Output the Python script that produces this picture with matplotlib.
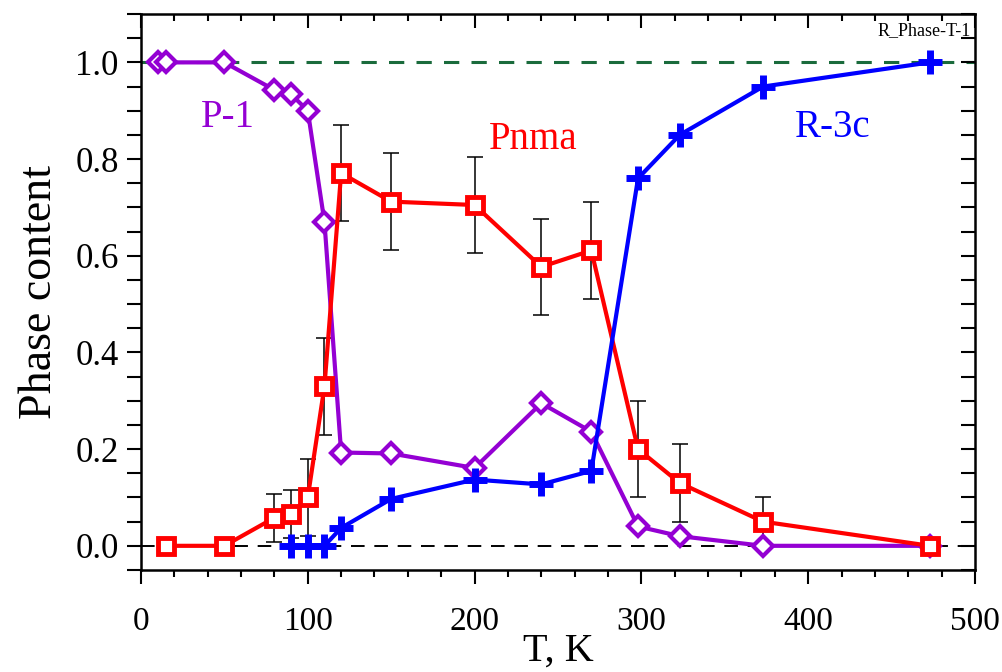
import matplotlib
matplotlib.use("Agg")
import matplotlib.pyplot as plt
from matplotlib.ticker import MultipleLocator

plt.rcParams['font.family'] = ['Liberation Serif', 'DejaVu Serif']

# P-1 phase (purple diamonds)
T_p1 = [10, 15, 50, 80, 90, 100, 110, 120, 150, 200, 240, 270, 298, 323, 373, 473]
v_p1 = [1.0, 1.0, 1.0, 0.943, 0.934, 0.90, 0.67, 0.193, 0.191, 0.161, 0.295, 0.236, 0.04, 0.02, 0.0, 0.0]

# Pnma phase (red squares) with error bars
T_pnma = [15, 50, 80, 90, 100, 110, 120, 150, 200, 240, 270, 298, 323, 373, 473]
v_pnma = [0.0, 0.0, 0.058, 0.066, 0.10, 0.33, 0.771, 0.712, 0.705, 0.577, 0.611, 0.20, 0.13, 0.05, 0.0]
e_pnma = [0, 0, 0.05, 0.05, 0.08, 0.10, 0.10, 0.10, 0.10, 0.10, 0.10, 0.10, 0.08, 0.05, 0]

# R-3c phase (blue crosses)
T_r3c = [90, 100, 110, 120, 150, 200, 240, 270, 298, 323, 373, 473]
v_r3c = [0.0, 0.0, 0.0, 0.037, 0.097, 0.137, 0.127, 0.155, 0.76, 0.85, 0.95, 1.0]

fig = plt.figure(figsize=(10.02, 6.72), dpi=100)
ax = fig.add_axes([0.1407, 0.1518, 0.8323, 0.8273])

ax.axhline(1.0, color='#1a6b3c', lw=2.2, ls=(0, (5, 4)), zorder=1)
ax.axhline(0.0, color='black', lw=1.4, ls=(0, (7, 5)), zorder=1)

ax.errorbar(T_pnma, v_pnma, yerr=[e if e > 0 else float('nan') for e in e_pnma],
            fmt='none', ecolor='black', elinewidth=1.1, capsize=6, capthick=1.1, zorder=2)

ax.plot(T_p1, v_p1, color='#9400D3', lw=3, marker='D', ms=10, mfc='white',
        mec='#9400D3', mew=3, zorder=3)
ax.plot(T_pnma, v_pnma, color='red', lw=3, marker='s', ms=11.5, mfc='white',
        mec='red', mew=3.5, zorder=4)
ax.plot(T_r3c, v_r3c, color='blue', lw=3, marker='+', ms=17, mew=5, zorder=5)

ax.text(52, 0.885, 'P-1', color='#9400D3', fontsize=28, ha='center', va='center')
ax.text(235, 0.84, 'Pnma', color='red', fontsize=28, ha='center', va='center')
ax.text(415, 0.865, 'R-3c', color='blue', fontsize=28, ha='center', va='center')
ax.text(0.995, 0.985, 'R_Phase-T-1', transform=ax.transAxes, fontsize=13,
        ha='right', va='top')

ax.set_xlim(0, 500)
ax.set_ylim(-0.05, 1.1)
ax.xaxis.set_major_locator(MultipleLocator(100))
ax.xaxis.set_minor_locator(MultipleLocator(20))
ax.yaxis.set_major_locator(MultipleLocator(0.2))
ax.yaxis.set_minor_locator(MultipleLocator(0.05))
ax.yaxis.set_major_formatter(matplotlib.ticker.FormatStrFormatter('%.1f'))

for s in ax.spines.values():
    s.set_linewidth(1.8)

ax.tick_params(axis='x', which='both', direction='out', top=True, labelsize=24, width=1.5, pad=16)
ax.tick_params(axis='x', which='major', length=10)
ax.tick_params(axis='x', which='minor', length=5)
ax.tick_params(axis='y', which='both', direction='out', right=True, labelsize=25, width=1.5, length=10, pad=6)

# top and right ticks point inward
for t in ax.xaxis.get_major_ticks() + ax.xaxis.get_minor_ticks():
    t.tick2line.set_marker(matplotlib.lines.TICKDOWN)
for t in ax.yaxis.get_major_ticks() + ax.yaxis.get_minor_ticks():
    t.tick2line.set_marker(matplotlib.lines.TICKLEFT)

ax.set_xlabel('T, K', fontsize=29, labelpad=-3)
ax.set_ylabel('Phase content', fontsize=33, labelpad=10)

fig.savefig('out.png', dpi=100)
